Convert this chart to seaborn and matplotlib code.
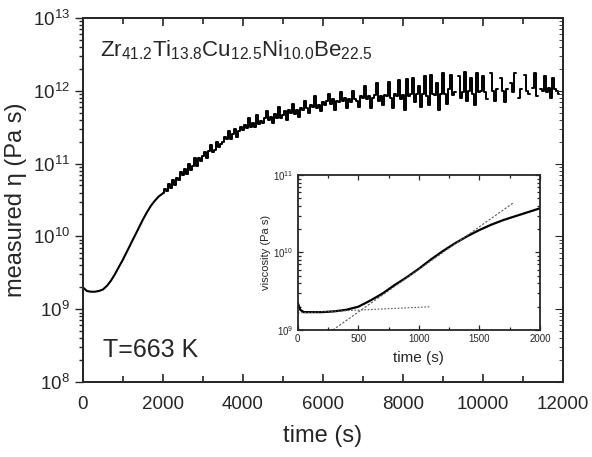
import numpy as np
import pandas as pd
import matplotlib
matplotlib.use("Agg")
import matplotlib.pyplot as plt
import seaborn as sns
from matplotlib.ticker import LogLocator, MultipleLocator, NullFormatter

# main curve, smooth start: time (s) and log10 of measured viscosity (Pa s)
smooth_time = list(range(0, 2100, 100))
smooth_logeta = [9.30, 9.25, 9.24, 9.24, 9.25, 9.27, 9.32, 9.39, 9.48, 9.58,
                 9.68, 9.79, 9.90, 10.01, 10.12, 10.23, 10.33, 10.42, 10.49, 10.55,
                 10.59]

# main curve, noisy part (gaps where no data is drawn)
noisy_time = list(range(2000, 11950, 50))
noisy_logeta = [
    10.59, 10.65, 10.62, 10.72, 10.67, 10.77, 10.71, 10.80, 10.78, 10.88,
    10.84, 10.93, 10.86, 10.99, 10.91, 10.97, 11.08, 10.96, 11.07, 11.04,
    11.10, 11.16, 11.08, 11.17, 11.26, 11.16, 11.19, 11.30, 11.22, 11.27,
    11.30, 11.36, 11.33, 11.45, 11.34, 11.40, 11.47, 11.36, 11.44, 11.50,
    11.46, 11.53, 11.49, 11.62, 11.50, 11.55, 11.50, 11.66, 11.54, 11.58,
    11.56, 11.63, 11.72, 11.60, 11.64, 11.56, 11.68, 11.62, 11.78, 11.63,
    11.66, 11.72, 11.60, 11.74, 11.70, 11.82, 11.68, 11.73, 11.64, 11.76,
    11.74, 11.86, 11.76, 11.70, 11.80, 11.78, 11.92, 11.76, 11.81, 11.72,
    11.84, 11.80, 11.86, 11.96, 11.82, 11.88, 11.74, 11.86, 11.84, 11.98,
    11.86, 11.90, 11.76, 11.88, 11.84, 12.00, 11.88, 11.86, 11.78, 11.92,
    11.90, 12.06, 11.88, 11.92, 11.76, 11.90, 11.94, 12.10, 11.86, 11.92,
    11.80, 11.94, 11.92, 12.12, 11.90, 11.76, 11.96, 11.92, 12.14, 11.88,
    11.94, 11.74, 12.16, 11.92, 11.96, 12.18, 11.84, 11.95, 12.06, 11.78,
    11.96, 12.20, 11.92, 11.80, 12.22, 11.96, 11.94, 12.10, 11.74, 11.96,
    12.24, 11.96, 11.82, 12.02, 12.22, 11.94, 11.98, np.nan, 12.20, 11.90,
    11.98, 12.26, 11.86, 12.00, 12.18, 11.96, 11.80, 12.24, 11.98, 12.00,
    12.20, 11.98, 11.88, np.nan, 12.24, 12.00, 11.86, 12.02, np.nan, 12.18,
    12.00, 11.84, 12.02, np.nan, 12.10, 11.98, 12.24, np.nan, 11.90, 12.02,
    np.nan, 12.22, 12.00, 11.96, np.nan, 12.04, 12.24, 11.92, np.nan, 12.02,
    12.00, 12.20, 11.98, 12.04, 11.90, 12.18, 12.02, 12.00, 11.96,
]

# inset: first 2000 s
inset_time = [0, 20, 50, 100, 200, 300, 400, 500, 600, 700, 800, 900, 1000,
              1100, 1200, 1300, 1400, 1500, 1600, 1700, 1800, 1900, 2000]
inset_logeta = [9.35, 9.26, 9.23, 9.23, 9.23, 9.24, 9.26, 9.30, 9.38, 9.47, 9.58,
                9.68, 9.79, 9.91, 10.02, 10.12, 10.21, 10.29, 10.36, 10.42,
                10.47, 10.52, 10.57]

# dotted fit lines in the inset (end points)
fit_flat_time = [0, 1100]
fit_flat_logeta = [9.22, 9.30]
fit_slope_time = [290, 1780]
fit_slope_logeta = [9.0, 10.64]

df_smooth = pd.DataFrame({"time": smooth_time, "eta": 10 ** np.array(smooth_logeta)})
df_noisy = pd.DataFrame({"time": noisy_time, "eta": 10 ** np.array(noisy_logeta)})
df_inset = pd.DataFrame({"time": inset_time, "eta": 10 ** np.array(inset_logeta)})

sns.set_style("ticks")
plt.rcParams["font.family"] = ["Liberation Sans", "DejaVu Sans"]
plt.rcParams["mathtext.fontset"] = "custom"
plt.rcParams["mathtext.rm"] = "Liberation Sans"
plt.rcParams["mathtext.it"] = "Liberation Sans:italic"
plt.rcParams["axes.linewidth"] = 1.3

fig = plt.figure(figsize=(5.92, 4.57), dpi=100)
ax = fig.add_axes([0.140, 0.164, 0.811, 0.797])

sns.lineplot(data=df_smooth, x="time", y="eta", ax=ax, color="black", lw=1.5,
             estimator=None, sort=False)
# keep the NaN gaps: draw the noisy part straight with matplotlib step style
ax.plot(df_noisy["time"], df_noisy["eta"], color="black", lw=1.4, drawstyle="steps-mid")
ax.set_yscale("log")
ax.set_xlim(0, 12000)
ax.set_ylim(1e8, 1e13)
ax.xaxis.set_major_locator(MultipleLocator(2000))
ax.xaxis.set_minor_locator(MultipleLocator(1000))
ax.yaxis.set_major_locator(LogLocator(base=10, numticks=10))
ax.yaxis.set_minor_locator(LogLocator(base=10, subs=np.arange(2, 10), numticks=20))
ax.yaxis.set_minor_formatter(NullFormatter())
ax.tick_params(axis="x", which="both", direction="in", top=True, labelsize=13.5, width=1.2, pad=10)
ax.tick_params(axis="x", which="major", length=6)
ax.tick_params(axis="x", which="minor", length=4)
ax.tick_params(axis="y", which="both", direction="out", right=False, labelsize=13.5, width=1.0)
ax.tick_params(axis="y", which="major", length=6)
ax.tick_params(axis="y", which="minor", length=3)
ax.set_xlabel("time (s)", fontsize=17, labelpad=9)
ax.set_ylabel("measured η (Pa s)", fontsize=17)

axr = ax.twinx()
axr.set_yscale("log")
axr.set_ylim(1e8, 1e13)
axr.yaxis.set_major_locator(LogLocator(base=10, numticks=10))
axr.yaxis.set_minor_locator(LogLocator(base=10, subs=np.arange(2, 10), numticks=20))
axr.tick_params(axis="y", which="both", direction="in", labelright=False)
axr.tick_params(axis="y", which="major", length=6)
axr.tick_params(axis="y", which="minor", length=3)

ax.text(0.035, 0.893,
        r"Zr$_{41.2}$Ti$_{13.8}$Cu$_{12.5}$Ni$_{10.0}$Be$_{22.5}$",
        transform=ax.transAxes, fontsize=16)
ax.text(0.042, 0.07, "T=663 K", transform=ax.transAxes, fontsize=18)

# inset
axi = fig.add_axes([0.503, 0.278, 0.409, 0.339])
sns.lineplot(data=df_inset, x="time", y="eta", ax=axi, color="black", lw=1.6,
             estimator=None, sort=False)
axi.plot(fit_flat_time, 10 ** np.array(fit_flat_logeta), ls=(0, (1.5, 1.5)),
         color="0.35", lw=0.8)
axi.plot(fit_slope_time, 10 ** np.array(fit_slope_logeta), ls=(0, (2, 1.5)),
         color="0.35", lw=0.8)
axi.set_yscale("log")
axi.set_xlim(0, 2000)
axi.set_ylim(1e9, 1e11)
axi.xaxis.set_major_locator(MultipleLocator(500))
axi.xaxis.set_minor_locator(MultipleLocator(250))
axi.yaxis.set_minor_locator(LogLocator(base=10, subs=np.arange(2, 10), numticks=20))
axi.yaxis.set_minor_formatter(NullFormatter())
axi.tick_params(which="both", direction="in", top=True, right=True, labelsize=7, width=0.9, pad=3)
axi.tick_params(which="major", length=3.5)
axi.tick_params(which="minor", length=2)
axi.set_xlabel("time (s)", fontsize=11, labelpad=5)
axi.set_ylabel("viscosity (Pa s)", fontsize=8, labelpad=2)

fig.savefig("out.png", dpi=100)
